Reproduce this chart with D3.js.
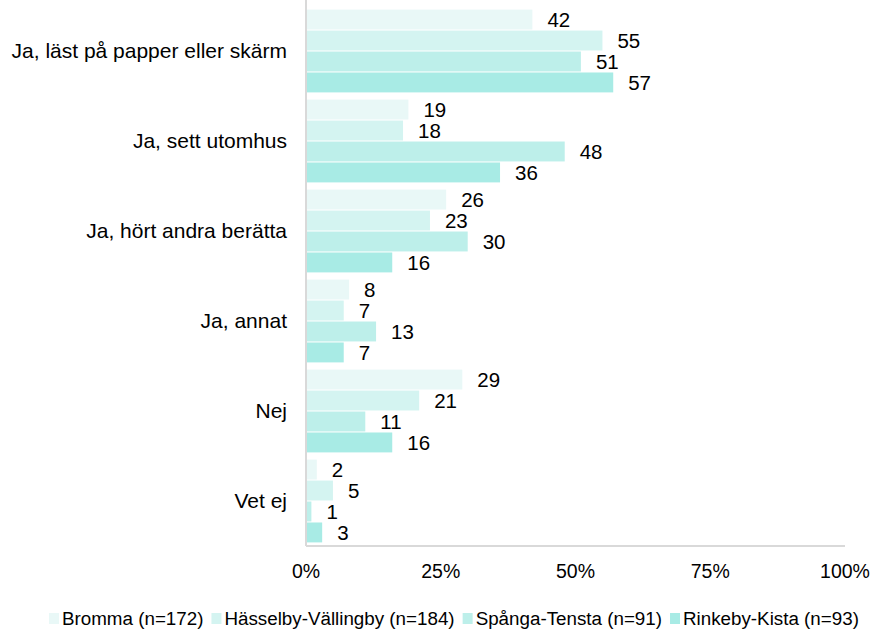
<!DOCTYPE html>
<html>
<head>
<meta charset="utf-8" />
<script src="https://cdn.jsdelivr.net/npm/d3@7"></script>
<style>
    body { margin: 0; background: #fff; }
    text { font-family: "Liberation Sans", Arial, sans-serif; fill: #000; }
</style>
</head>
<body>
<script>
    var categories = ["Ja, läst på papper eller skärm", "Ja, sett utomhus", "Ja, hört andra berätta", "Ja, annat", "Nej", "Vet ej"];
    var seriesNames = ["Bromma (n=172)", "Hässelby-Vällingby (n=184)", "Spånga-Tensta (n=91)", "Rinkeby-Kista (n=93)"];
    var bromma = [42, 19, 26, 8, 29, 2];
    var hasselby = [55, 18, 23, 7, 21, 5];
    var spanga = [51, 48, 30, 13, 11, 1];
    var rinkeby = [57, 36, 16, 7, 16, 3];
    var ticks = [0, 25, 50, 75, 100];
    var colors = ["#e9f8f7", "#d4f4f1", "#bdefea", "#a8ebe5"];

    var series = [bromma, hasselby, spanga, rinkeby];

    var svgWidth = 876, svgHeight = 629;
    var margin = {top: 6, left: 306, right: 31, bottom: 83};
    var width = svgWidth - margin.left - margin.right,
        height = svgHeight - margin.top - margin.bottom;

    var svg = d3.select("body").append("svg")
        .attr("width", svgWidth)
        .attr("height", svgHeight);
    var g = svg.append("g")
        .attr("transform", "translate(" + margin.left + "," + margin.top + ")");

    var x = d3.scaleLinear().domain([0, 100]).range([0, width]);
    var y0 = d3.scaleBand().domain(categories).range([0, height]).paddingInner(0.08).paddingOuter(0.04);
    var y1 = d3.scaleBand().domain(d3.range(series.length)).range([0, y0.bandwidth()]).paddingInner(0.05);

    // bars + value labels
    series.forEach(function(s, si) {
        var grp = g.append("g");
        grp.selectAll("rect").data(s).enter().append("rect")
            .attr("x", 0)
            .attr("y", function(d, i) { return y0(categories[i]) + y1(si); })
            .attr("width", function(d) { return x(d); })
            .attr("height", y1.bandwidth())
            .attr("fill", colors[si]);
        grp.selectAll("text").data(s).enter().append("text")
            .attr("x", function(d) { return x(d) + 15; })
            .attr("y", function(d, i) { return y0(categories[i]) + y1(si) + y1.bandwidth() / 2; })
            .attr("dy", "0.35em")
            .style("font-size", "20.5px")
            .text(function(d) { return d; });
    });

    // axis lines
    g.append("line").attr("x1", 0).attr("x2", 0).attr("y1", -margin.top).attr("y2", height)
        .attr("stroke", "#d9d9d9").attr("stroke-width", 2);
    g.append("line").attr("x1", 0).attr("x2", width).attr("y1", height).attr("y2", height)
        .attr("stroke", "#d9d9d9").attr("stroke-width", 2);

    // x tick labels
    g.selectAll(".tick").data(ticks).enter().append("text")
        .attr("x", function(d) { return x(d); })
        .attr("y", height + 32)
        .attr("text-anchor", "middle")
        .style("font-size", "19.5px")
        .text(function(d) { return d + "%"; });

    // category labels
    g.selectAll(".cat").data(categories).enter().append("text")
        .attr("x", -19)
        .attr("y", function(d) { return y0(d) + y0.bandwidth() / 2; })
        .attr("dy", "0.35em")
        .attr("text-anchor", "end")
        .style("font-size", "21px")
        .text(function(d) { return d; });

    // legend
    var legend = svg.append("g").attr("transform", "translate(0,618)");
    var lx = 49;
    seriesNames.forEach(function(name, i) {
        var item = legend.append("g").attr("transform", "translate(" + lx + ",0)");
        item.append("rect").attr("x", 0).attr("y", -5).attr("width", 10).attr("height", 11).attr("fill", colors[i]);
        var t = item.append("text").attr("x", 13).attr("dy", "0.35em").style("font-size", "18.8px").text(name);
        lx += 13 + t.node().getComputedTextLength() + 8;
    });
</script>
</body>
</html>
